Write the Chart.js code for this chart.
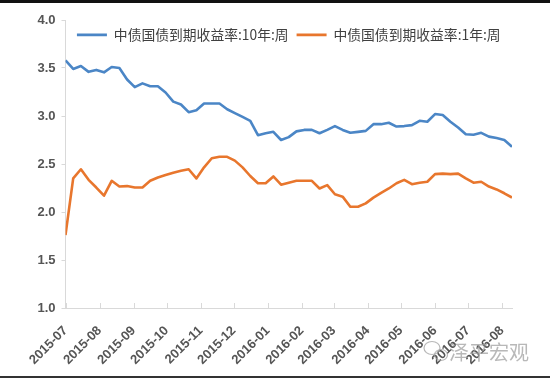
<!DOCTYPE html>
<html>
<head>
<meta charset="utf-8">
<script src="https://cdn.jsdelivr.net/npm/chart.js@4/dist/chart.umd.min.js"></script>
<style>
html,body{margin:0;padding:0;background:#fff;}
#wrap{position:relative;width:550px;height:379px;}
</style>
</head>
<body>
<div id="wrap"><canvas id="c" width="550" height="379"></canvas></div>
<script>
// Weekly observation dates
const weeks = [
 "2015-07-01","2015-07-08","2015-07-15","2015-07-22","2015-07-29",
 "2015-08-05","2015-08-12","2015-08-19","2015-08-26",
 "2015-09-02","2015-09-09","2015-09-16","2015-09-23","2015-09-30",
 "2015-10-07","2015-10-14","2015-10-21","2015-10-28",
 "2015-11-04","2015-11-11","2015-11-18","2015-11-25",
 "2015-12-02","2015-12-09","2015-12-16","2015-12-23","2015-12-30",
 "2016-01-06","2016-01-13","2016-01-20","2016-01-27",
 "2016-02-03","2016-02-10","2016-02-17","2016-02-24",
 "2016-03-02","2016-03-09","2016-03-16","2016-03-23","2016-03-30",
 "2016-04-06","2016-04-13","2016-04-20","2016-04-27",
 "2016-05-04","2016-05-11","2016-05-18","2016-05-25",
 "2016-06-01","2016-06-08","2016-06-15","2016-06-22","2016-06-29",
 "2016-07-06","2016-07-13","2016-07-20","2016-07-27",
 "2016-08-03","2016-08-10"
];
// 中债国债到期收益率:10年:周
const yield10y = [
 3.58,3.49,3.52,3.46,3.48,3.455,3.51,3.50,3.38,3.30,
 3.34,3.31,3.31,3.245,3.15,3.12,3.04,3.06,3.13,3.13,
 3.13,3.07,3.03,2.99,2.95,2.80,2.82,2.835,2.75,2.78,
 2.84,2.855,2.855,2.82,2.855,2.895,2.855,2.825,2.835,2.845,
 2.915,2.915,2.93,2.89,2.895,2.905,2.95,2.94,3.02,3.01,
 2.94,2.88,2.81,2.805,2.825,2.785,2.77,2.75,2.68
];
// 中债国债到期收益率:1年:周
const yield1y = [
 1.76,2.35,2.445,2.335,2.255,2.17,2.325,2.265,2.27,2.255,
 2.255,2.325,2.36,2.385,2.41,2.43,2.445,2.35,2.465,2.56,
 2.575,2.575,2.535,2.465,2.375,2.30,2.30,2.37,2.285,2.305,
 2.325,2.325,2.325,2.245,2.28,2.185,2.16,2.055,2.055,2.09,
 2.15,2.20,2.245,2.30,2.335,2.29,2.305,2.315,2.395,2.40,
 2.395,2.40,2.35,2.305,2.315,2.265,2.235,2.195,2.15
];
const monthLabels = ["2015-07","2015-08","2015-09","2015-10","2015-11","2015-12",
 "2016-01","2016-02","2016-03","2016-04","2016-05","2016-06","2016-07","2016-08"];
const seriesNames = ["中债国债到期收益率:10年:周","中债国债到期收益率:1年:周"];
const yTicks = [1.0,1.5,2.0,2.5,3.0,3.5,4.0];

const t0 = Date.parse(weeks[0] + "T00:00:00Z");
const dayOf = s => Math.round((Date.parse(s + "T00:00:00Z") - t0) / 86400000);
const monthDays = monthLabels.map(m => dayOf(m + "-01"));
const toPts = vals => vals.map((v, i) => ({x: dayOf(weeks[i]), y: v}));

// Let the top legend overlap the plot area (no layout height reserved)
const legendOverlay = {
  id: 'legendOverlay',
  afterInit(chart) {
    const lg = chart.legend;
    if (!lg) return;
    const fit = lg.fit.bind(lg);
    const draw = lg.draw.bind(lg);
    lg.fit = function() { fit(); this._realH = this.height; this.height = 0; };
    lg.draw = function() {
      this.height = this._realH;
      this.bottom = this.top + this._realH;
      draw();
    };
  }
};

const deco = {
  id: 'deco',
  beforeDraw(chart) {
    const ctx = chart.ctx;
    ctx.save();
    ctx.fillStyle = '#fff';
    ctx.fillRect(0, 0, chart.width, chart.height);
    ctx.restore();
  },
  afterDraw(chart) {
    const ctx = chart.ctx;
    const xs = chart.scales.x;
    ctx.save();
    // inward month tick marks
    ctx.strokeStyle = '#d9d9d9';
    ctx.lineWidth = 1;
    ctx.beginPath();
    xs.ticks.forEach(t => {
      const px = Math.round(xs.getPixelForValue(t.value)) + 0.5;
      ctx.moveTo(px, xs.top);
      ctx.lineTo(px, xs.top - 5);
    });
    ctx.stroke();
    // watermark
    ctx.fillStyle = 'rgba(160,160,160,0.75)';
    ctx.font = '20px "Noto Sans CJK SC"';
    ctx.textBaseline = 'middle';
    ctx.fillText('泽平宏观', 449, 352);
    ctx.strokeStyle = 'rgba(160,160,160,0.75)';
    ctx.lineWidth = 1.2;
    ctx.beginPath(); ctx.ellipse(432, 348, 8, 6.5, 0, 0, Math.PI * 2); ctx.stroke();
    ctx.beginPath(); ctx.ellipse(441, 355, 6.5, 5.5, 0, 0, Math.PI * 2); ctx.stroke();
    // frame lines
    ctx.fillStyle = '#111';
    ctx.fillRect(0, 0, chart.width, 3);
    ctx.fillStyle = '#333';
    ctx.fillRect(0, 376, chart.width, 2);
    ctx.restore();
  }
};

new Chart(document.getElementById('c'), {
  type: 'line',
  data: {
    datasets: [
      {label: seriesNames[0], data: toPts(yield10y), borderColor: '#4b86c6', backgroundColor: '#4b86c6',
       borderWidth: 2.6, pointRadius: 0, tension: 0, borderJoinStyle: 'round'},
      {label: seriesNames[1], data: toPts(yield1y), borderColor: '#e8762d', backgroundColor: '#e8762d',
       borderWidth: 2.6, pointRadius: 0, tension: 0, borderJoinStyle: 'round'}
    ]
  },
  options: {
    responsive: false,
    animation: false,
    events: [],
    layout: {padding: {top: 20, right: 38, left: 0, bottom: 0}},
    plugins: {
      legend: {
        position: 'top',
        align: 'center',
        fullSize: false,
        labels: {
          usePointStyle: true,
          pointStyle: 'line',
          pointStyleWidth: 30,
          boxHeight: 14,
          padding: 8,
          color: '#404040',
          font: {family: '"Noto Sans CJK SC"', size: 13.8}
        }
      },
      tooltip: {enabled: false}
    },
    scales: {
      x: {
        type: 'linear',
        min: 0,
        max: dayOf(weeks[weeks.length - 1]),
        afterBuildTicks: ax => { ax.ticks = monthDays.map(v => ({value: v})); },
        afterFit: s => { s.height = 71; },
        border: {color: '#d9d9d9', width: 1},
        grid: {display: true, drawOnChartArea: false, drawTicks: false},
        ticks: {
          autoSkip: false,
          minRotation: 45,
          maxRotation: 45,
          padding: 15,
          color: '#555',
          font: {family: '"Liberation Sans"', size: 13, weight: 'bold'},
          callback: v => { const k = monthDays.indexOf(v); return k >= 0 ? monthLabels[k] : ''; }
        }
      },
      y: {
        min: 1,
        max: 4,
        afterBuildTicks: ax => { ax.ticks = yTicks.map(v => ({value: v})); },
        afterFit: s => { s.width = 65.5; },
        border: {color: '#d9d9d9', width: 1},
        grid: {drawOnChartArea: false, drawTicks: true, tickLength: 4, color: '#d9d9d9'},
        ticks: {
          padding: 6,
          color: '#555',
          font: {family: '"Liberation Sans"', size: 13, weight: 'bold'},
          callback: v => Number(v).toFixed(1)
        }
      }
    }
  },
  plugins: [legendOverlay, deco]
});
</script>
</body>
</html>
